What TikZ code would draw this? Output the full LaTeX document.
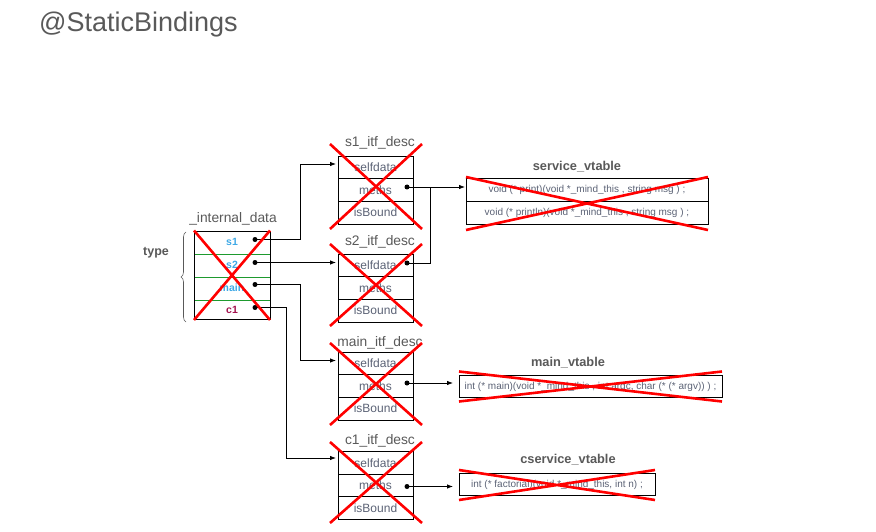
\documentclass[tikz,border=0pt]{standalone}
\usepackage{fontspec}
\setmainfont{Liberation Sans}
\usetikzlibrary{arrows.meta,decorations.pathreplacing,calc}
\definecolor{txtgrey}{HTML}{595959}
\definecolor{rowtxt}{HTML}{5B6275}
\definecolor{idblue}{HTML}{3FA9E6}
\definecolor{idred}{HTML}{A3124E}
\definecolor{xred}{HTML}{FF0000}
\definecolor{sepgreen}{HTML}{1E9A2E}
\begin{document}
\begin{tikzpicture}[x=1pt,y=-1pt,
  cross/.style={xred,line width=2.6pt},
  rowbox/.style={draw=black,line width=0.8pt,minimum height=22.6pt,inner sep=0pt,text=rowtxt,font=\fontsize{12}{13}\selectfont},
  descrow/.style={rowbox,minimum width=75pt},
  vtrow/.style={rowbox,font=\fontsize{10}{12}\selectfont},
  idrow/.style={inner sep=0pt,font=\bfseries\fontsize{10.5}{12}\selectfont},
  desctitle/.style={text=txtgrey,font=\fontsize{13.8}{16}\selectfont,inner sep=0pt},
  vttitle/.style={text=txtgrey,font=\bfseries\fontsize{12.8}{15}\selectfont,inner sep=0pt},
  conn/.style={draw=black,line width=0.8pt,-{Latex[length=6pt,width=4.5pt]}},
  plainconn/.style={draw=black,line width=0.8pt},
  dotmark/.style={fill=black},
]
\useasboundingbox (0,0) rectangle (876,532);

% title
\node[anchor=west,text=txtgrey,font=\fontsize{27}{32}\selectfont,inner sep=0pt] (title) at (39,25) {@StaticBindings};

% _internal_data
\node[desctitle] (idtitle) at (233,219) {\_internal\_data};
\node[idrow,text=idblue] (ids1) at (232,242) {s1};
\node[idrow,text=idblue] (ids2) at (232,265) {s2};
\node[idrow,text=idblue] (idmain) at (232,288) {main};
\node[idrow,text=idred] (idc1) at (232,310) {c1};
\draw[sepgreen,line width=0.8pt] (194,254) -- (270,254) (194,277) -- (270,277) (194,300) -- (270,300);
\draw[black,line width=0.8pt] (194,231.5) rectangle (270,319.5);
\node[text=txtgrey,font=\bfseries\fontsize{12.5}{14}\selectfont,inner sep=0pt] (typelbl) at (156,253) {type};
\draw[txtgrey,line width=0.6pt,decorate,decoration={brace,amplitude=5pt}] (186,322) -- (186,232);

% s1_itf_desc
\node[desctitle] (s1title) at (380,143) {s1\_itf\_desc};
\node[descrow] (s1sd) at (375.5,167.3) {selfdata};
\node[descrow] (s1me) at (375.5,190) {meths};
\node[descrow] (s1ib) at (375.5,212.7) {isBound};

% s2_itf_desc
\node[desctitle] (s2title) at (380,242) {s2\_itf\_desc};
\node[descrow] (s2sd) at (375.5,265.3) {selfdata};
\node[descrow] (s2me) at (375.5,288) {meths};
\node[descrow] (s2ib) at (375.5,310.7) {isBound};

% main_itf_desc
\node[desctitle] (mntitle) at (380,343) {main\_itf\_desc};
\node[descrow] (mnsd) at (375.5,363.3) {selfdata};
\node[descrow] (mnme) at (375.5,386) {meths};
\node[descrow] (mnib) at (375.5,408.7) {isBound};

% c1_itf_desc
\node[desctitle] (c1title) at (380,441) {c1\_itf\_desc};
\node[descrow] (c1sd) at (375.5,462.8) {selfdata};
\node[descrow] (c1me) at (375.5,485.3) {meths};
\node[descrow] (c1ib) at (375.5,507.8) {isBound};

% service_vtable
\node[vttitle] (svtitle) at (577,167) {service\_vtable};
\node[vtrow,minimum width=242pt] (sv1) at (587,190) {void (* print)(void *\_mind\_this , string msg ) ;};
\node[vtrow,minimum width=242pt] (sv2) at (587,212.6) {void (* println)(void *\_mind\_this , string msg ) ;};

% main_vtable
\node[vttitle] (mvtitle) at (568,363) {main\_vtable};
\node[vtrow,minimum width=263pt] (mv1) at (590.5,386.5) {int (* main)(void *\_mind\_this , int argc, char (* (* argv)) ) ;};

% cservice_vtable
\node[vttitle] (cvtitle) at (568,460) {cservice\_vtable};
\node[vtrow,minimum width=196pt] (cv1) at (557,484.5) {int (* factorial)(void *\_mind\_this, int n) ;};

% dots
\coordinate (ds1) at (255,239.5);
\coordinate (ds2) at (255,262.5);
\coordinate (dmain) at (255,284.5);
\coordinate (dc1) at (255,307.5);
\coordinate (ds1me) at (407,187);
\coordinate (ds2sd) at (407,263);
\coordinate (dmnme) at (407,383);
\coordinate (dc1me) at (407,486.5);
\foreach \d in {ds1,ds2,dmain,dc1,ds1me,ds2sd,dmnme,dc1me} \fill[dotmark] (\d) circle (2.5pt);

% arrow targets
\coordinate (ts1) at (336,164);
\coordinate (ts2) at (336,262.5);
\coordinate (tmn) at (336,360.5);
\coordinate (tc1) at (336,458);
\coordinate (tsv) at (465,187);
\coordinate (tmv) at (453,383);
\coordinate (tcv) at (453,486.5);

\draw[conn] (ds1) -- (300,239.5) |- (ts1);
\draw[conn] (ds2) -- (ts2);
\draw[conn] (dmain) -- (300,284.5) |- (tmn);
\draw[conn] (dc1) -- (286,307.5) |- (tc1);
\draw[conn] (ds1me) -- (tsv);
\draw[plainconn] (ds2sd) -- (430,263) -- (430,187);
\draw[conn] (dmnme) -- (tmv);
\draw[conn] (dc1me) -- (tcv);

% crosses
\draw[cross] (194,230.5) -- (270,320) (270,230.5) -- (194,320);
\draw[cross] (330,144) -- (422,229) (422,144) -- (330,229);
\draw[cross] (330,244) -- (422,326) (422,244) -- (330,326);
\draw[cross] (330,343) -- (422,425) (422,343) -- (330,425);
\draw[cross] (330,442) -- (422,523) (422,442) -- (330,523);
\draw[cross] (466,177) -- (708,230) (708,177) -- (466,230);
\draw[cross] (459,371.5) -- (722,401.5) (722,371.5) -- (459,401.5);
\draw[cross] (459,470) -- (655,500) (655,470) -- (459,500);
\end{tikzpicture}
\end{document}
